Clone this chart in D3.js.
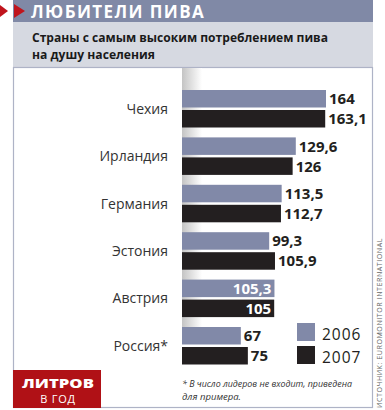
<!DOCTYPE html>
<html><head><meta charset="utf-8">
<script src="https://cdn.jsdelivr.net/npm/d3@7"></script>
<style>
html,body{margin:0;padding:0;background:#fff;}
svg{display:block;}
text{font-family:"Open Sans","Noto Sans",sans-serif;}
</style></head>
<body>
<svg id="chart" width="385" height="410"></svg>
<script>
const categories = ["Чехия","Ирландия","Германия","Эстония","Австрия","Россия*"];
const values2006 = [164,129.6,113.5,99.3,105.3,67];
const values2007 = [163.1,126,112.7,105.9,105,75];
const labels2006 = ["164","129,6","113,5","99,3","105,3","67"];
const labels2007 = ["163,1","126","112,7","105,9","105","75"];
const seriesNames = ["2006","2007"];
const insideLabel = [false,false,false,false,true,false];

const colors = {s2006:"#8189a8", s2007:"#231f20", header:"#8089a6", sub:"#d6d9e1", red:"#b01116"};

const svg = d3.select("#chart");
const defs = svg.append("defs");
const g1 = defs.append("linearGradient").attr("id","shade").attr("x1","0").attr("x2","1").attr("y1","0").attr("y2","0");
g1.append("stop").attr("offset","0").attr("stop-color","#c4c4c4");
g1.append("stop").attr("offset","1").attr("stop-color","#ffffff");

// header
svg.append("rect").attr("x",13).attr("y",0).attr("width",360).attr("height",22).attr("fill",colors.header);
svg.append("path").attr("d","M0,5 L8,11 L0,17 Z").attr("fill","#c0141c");
svg.append("path").attr("d","M14,4 L25,11 L14,18 Z").attr("fill","#c0141c");
svg.append("text").attr("x",31).attr("y",18).attr("fill","#fff").attr("font-size",17).attr("font-weight",700)
  .attr("letter-spacing",1.4).text("ЛЮБИТЕЛИ ПИВА");
// subtitle
svg.append("rect").attr("x",13).attr("y",22).attr("width",360).attr("height",45).attr("fill",colors.sub);
svg.append("text").attr("x",32).attr("y",41.5).attr("fill","#1a1a1a").attr("font-size",12.5).attr("font-weight",700)
  .attr("textLength",296).attr("lengthAdjust","spacingAndGlyphs").text("Страны с самым высоким потреблением пива");
svg.append("text").attr("x",32).attr("y",58.5).attr("fill","#1a1a1a").attr("font-size",12.5).attr("font-weight",700)
  .attr("textLength",123).attr("lengthAdjust","spacingAndGlyphs").text("на душу населения");
// panel
svg.append("rect").attr("x",13.5).attr("y",67.5).attr("width",359).attr("height",340).attr("fill","#fff")
  .attr("stroke","#aeb3c6").attr("stroke-width",1.2);

const x = d3.scaleLinear().domain([0,164]).range([182,326]);
const y = d3.scaleBand().domain(categories).range([87,87+6*47.4]).padding(0);
const barH = 17.5, gap = 2.5;

// shade strip
svg.append("rect").attr("x",x(0)).attr("y",68).attr("width",20).attr("height",y(categories[5])+3-68).attr("fill","url(#shade)");

const grp = svg.append("g").selectAll("g").data(categories).join("g")
  .attr("transform",c=>`translate(0,${y(c)+3})`);

grp.append("rect").attr("x",x(0)).attr("y",0).attr("height",barH)
  .attr("width",(c,i)=>x(values2006[i])-x(0)).attr("fill",colors.s2006);
grp.append("rect").attr("x",x(0)).attr("y",barH+gap).attr("height",barH)
  .attr("width",(c,i)=>x(values2007[i])-x(0)).attr("fill",colors.s2007);

grp.append("text").attr("x",168).attr("y",barH+gap/2+5).attr("text-anchor","end").attr("font-size",14)
  .attr("fill","#333").text(c=>c);

grp.append("text").attr("y",barH/2+5.5).attr("font-size",15).attr("font-weight",700)
  .attr("x",(c,i)=>insideLabel[i]? x(values2006[i])-3 : x(values2006[i])+3)
  .attr("text-anchor",(c,i)=>insideLabel[i]?"end":"start")
  .attr("fill",(c,i)=>insideLabel[i]?"#fff":"#231f20").text((c,i)=>labels2006[i]);
grp.append("text").attr("y",barH+gap+barH/2+5.5).attr("font-size",15).attr("font-weight",700)
  .attr("x",(c,i)=>insideLabel[i]? x(values2007[i])-3 : x(values2007[i])+3)
  .attr("text-anchor",(c,i)=>insideLabel[i]?"end":"start")
  .attr("fill",(c,i)=>insideLabel[i]?"#fff":"#231f20").text((c,i)=>labels2007[i]);

// legend
const leg = svg.append("g").selectAll("g").data(seriesNames).join("g")
  .attr("transform",(d,i)=>`translate(297,${323+i*23})`);
leg.append("rect").attr("width",18).attr("height",18).attr("fill",(d,i)=>i?colors.s2007:colors.s2006);
leg.append("text").attr("x",25).attr("y",17).attr("font-size",15.5).attr("letter-spacing",1).attr("fill","#231f20").text(d=>d);

// red box
svg.append("rect").attr("x",13).attr("y",370).attr("width",88).attr("height",38).attr("fill",colors.red);
svg.append("text").attr("x",58).attr("y",387.5).attr("text-anchor","middle").attr("fill","#fff").attr("font-size",11.5)
  .attr("font-weight",800).attr("textLength",72).attr("lengthAdjust","spacingAndGlyphs").text("ЛИТРОВ");
svg.append("text").attr("x",58).attr("y",403).attr("text-anchor","middle").attr("fill","#fff").attr("font-size",11)
  .attr("letter-spacing",0.7).text("В ГОД");

// footnote
svg.append("text").attr("x",182).attr("y",386.5).attr("font-size",9.5).attr("font-style","italic").attr("fill","#333")
  .attr("textLength",170).attr("lengthAdjust","spacingAndGlyphs").text("* В число лидеров не входит, приведена");
svg.append("text").attr("x",182).attr("y",399.5).attr("font-size",9.5).attr("font-style","italic").attr("fill","#333")
  .text("для примера.");

// source
svg.append("text").attr("transform","translate(382,408) rotate(-90)").attr("font-size",8).attr("fill","#666")
  .attr("letter-spacing",0.6).attr("textLength",170).attr("lengthAdjust","spacingAndGlyphs").text("ИСТОЧНИК: EUROMONITOR INTERNATIONAL");
</script>
</body></html>
